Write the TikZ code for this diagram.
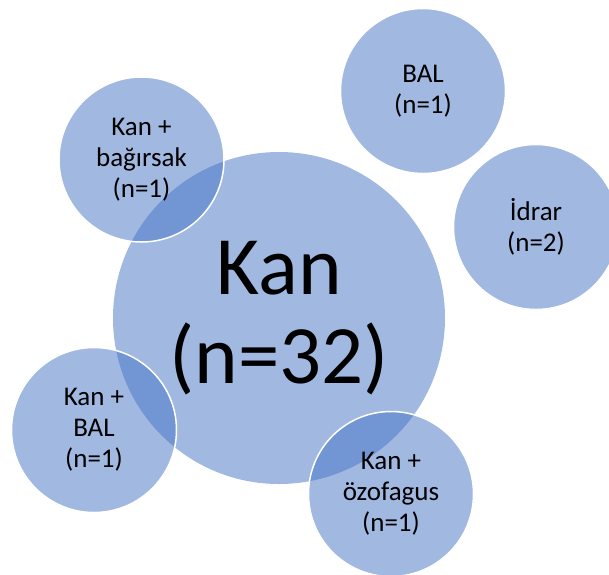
\documentclass[tikz,border=0pt]{standalone}
\usepackage{fontspec}
\setmainfont{Carlito}
\definecolor{accent}{HTML}{4472C4}
\begin{document}
\begin{tikzpicture}[x=1pt,y=-1pt,
  bub/.style={circle, fill=accent, fill opacity=0.5, text opacity=1, draw=white, line width=1.5pt, align=center, inner sep=0pt, text=black},
  small/.style={bub, minimum size=165pt, font=\fontsize{27}{31}\selectfont},
  big/.style={circle, fill=accent, fill opacity=0.5, text opacity=1, draw=none, align=center, inner sep=0pt, minimum size=332pt, font=\fontsize{83}{89}\selectfont}]
\useasboundingbox (0,0) rectangle (609,574);
\node[big] (kan) at (279,318) {Kan\\(n=32)};
\node[small] (bag) at (141.5,159.5) {Kan +\\bağırsak\\(n=1)};
\node[small] (bal) at (423,91) {BAL\\(n=1)};
\node[small] (idr) at (536,227) {İdrar\\(n=2)};
\node[small] (kbal) at (94,430) {Kan +\\BAL\\(n=1)};
\node[small] (oz) at (391,494) {Kan +\\özofagus\\(n=1)};
\end{tikzpicture}
\end{document}
